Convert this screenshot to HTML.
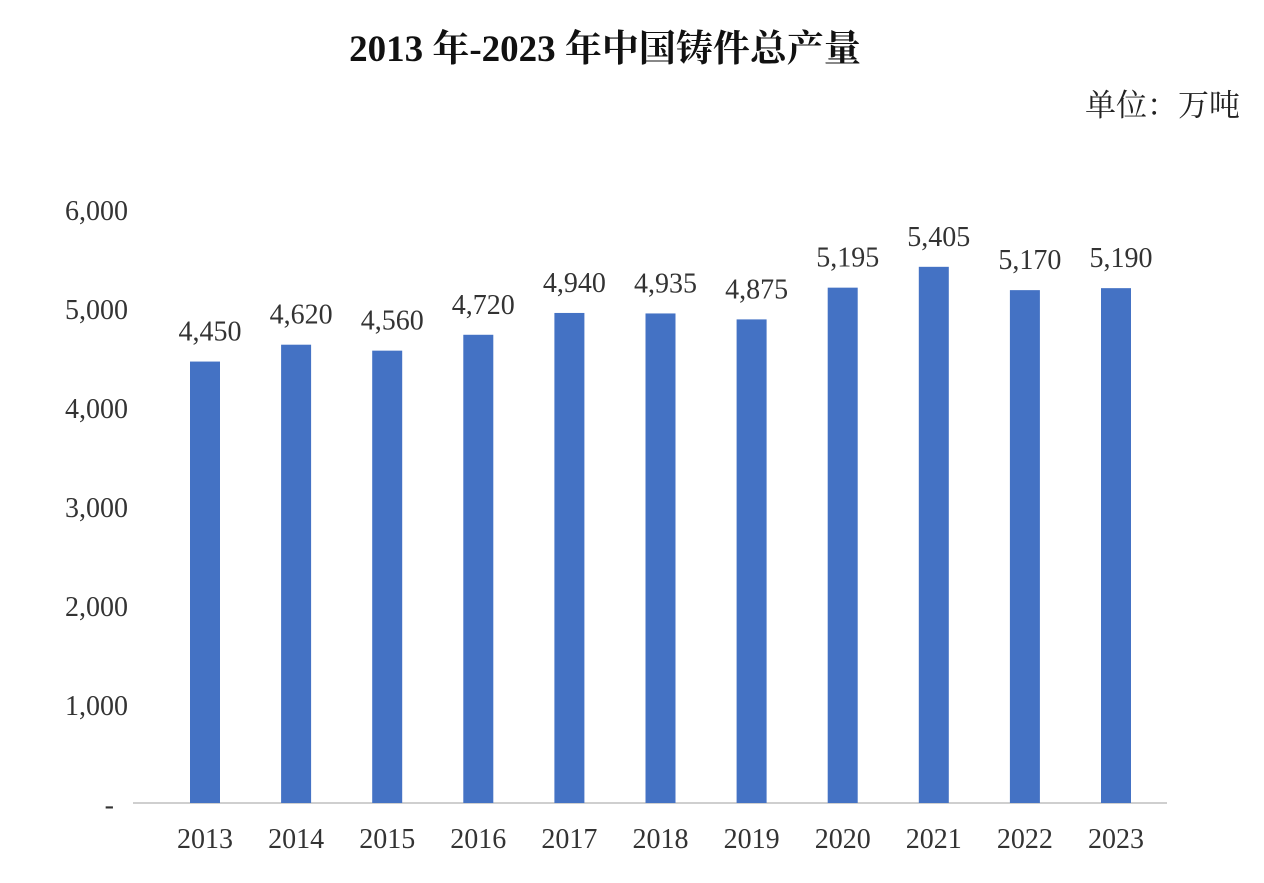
<!DOCTYPE html>
<html><head><meta charset="utf-8"><style>
body{margin:0;background:#fff;}
svg text{font-family:"Liberation Serif","Noto Serif CJK SC",serif;}
</style></head><body>
<svg width="1264" height="878" xmlns="http://www.w3.org/2000/svg">
<rect width="1264" height="878" fill="#fff"/>
<text x="605" y="61" text-anchor="middle" font-size="37" font-weight="bold" fill="#111">2013 年-2023 年中国铸件总产量</text>
<text x="1240" y="116" text-anchor="end" font-size="31" fill="#222">单位：万吨</text>
<g font-size="28" fill="#333" text-anchor="end">
<text x="128" y="220">6,000</text>
<text x="128" y="319">5,000</text>
<text x="128" y="418">4,000</text>
<text x="128" y="517">3,000</text>
<text x="128" y="616">2,000</text>
<text x="128" y="715">1,000</text>
<text x="114" y="814">-</text>
</g>
<line x1="133" y1="803" x2="1167" y2="803" stroke="#bfbfbf" stroke-width="1.5"/>
<g id="bars" fill="#4472C4"></g>
<g id="vals" font-size="28" fill="#333" text-anchor="middle"></g>
<g id="xl" font-size="28" fill="#333" text-anchor="middle"></g>
<script>
var d=[4450,4620,4560,4720,4940,4935,4875,5195,5405,5170,5190];
var b=document.getElementById('bars'),v=document.getElementById('vals'),x=document.getElementById('xl');
var ns='http://www.w3.org/2000/svg';
d.forEach(function(val,i){
var cx=205+i*91.1,top=803-val*0.0992;
var r=document.createElementNS(ns,'rect');r.setAttribute('x',cx-15);r.setAttribute('y',top);r.setAttribute('width',30);r.setAttribute('height',803-top);b.appendChild(r);
var t=document.createElementNS(ns,'text');t.setAttribute('x',cx+5);t.setAttribute('y',top-21);t.textContent=val.toLocaleString('en-US');v.appendChild(t);
var t2=document.createElementNS(ns,'text');t2.setAttribute('x',cx);t2.setAttribute('y',848);t2.textContent=2013+i;x.appendChild(t2);
});
</script>
</svg>
</body></html>
